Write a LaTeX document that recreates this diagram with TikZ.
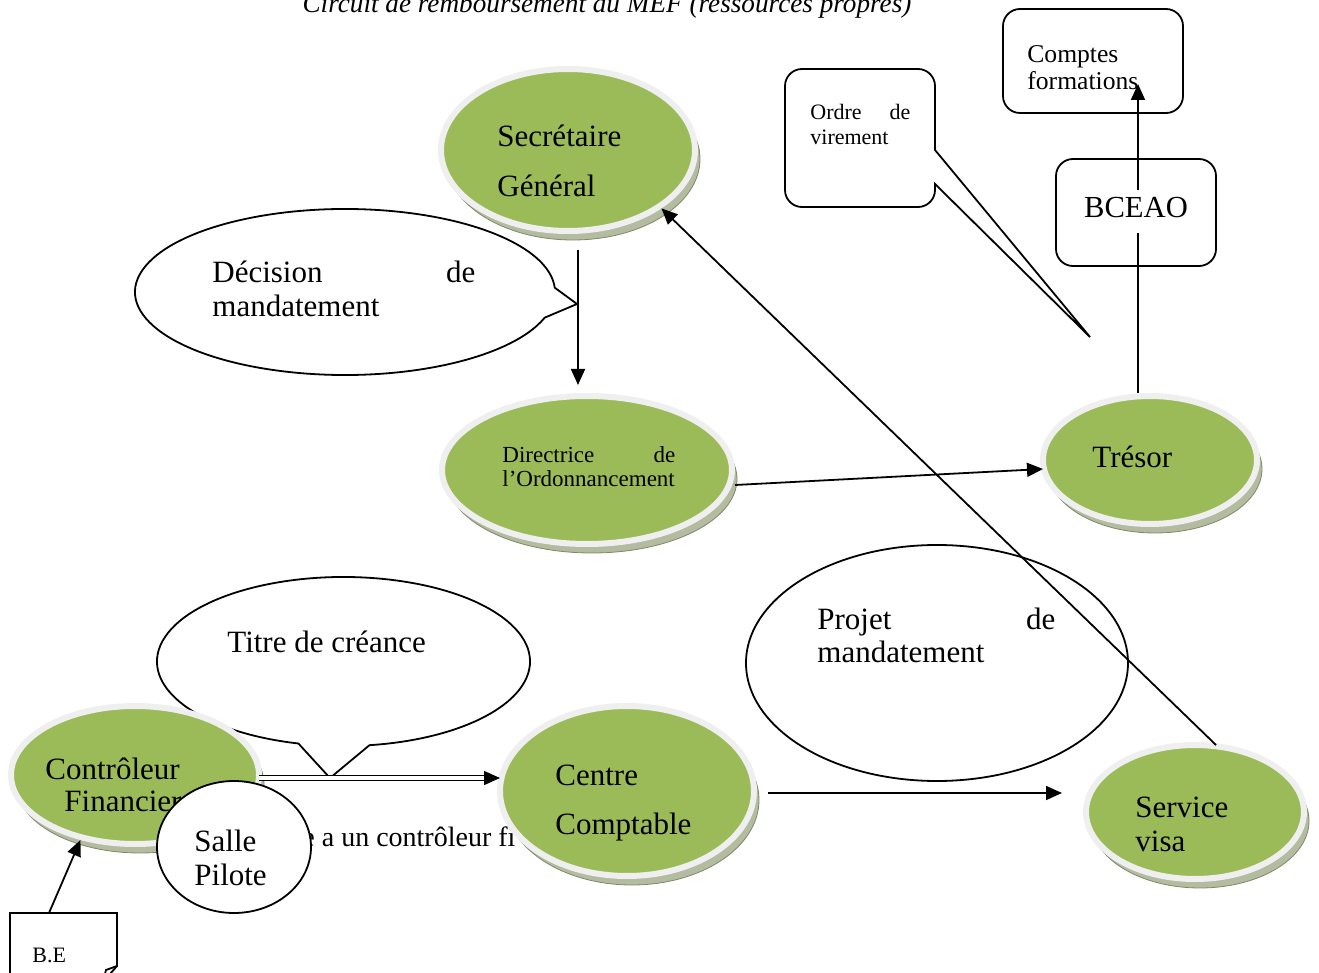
\documentclass[tikz,border=0pt]{standalone}
\usepackage{fontspec}
\setmainfont{Liberation Serif}
\usetikzlibrary{shapes.geometric,shadows,arrows.meta,calc}

\definecolor{vert}{HTML}{9BBB59}
\definecolor{anneau}{HTML}{EFEFEF}
\definecolor{ombre}{HTML}{B3BBA0}
\definecolor{ombrebord}{HTML}{7D8A63}

\tikzset{
  acteur/.style={ellipse, fill=vert, draw=anneau, line width=3pt, inner sep=0pt,
    drop shadow={shadow xshift=2.5pt, shadow yshift=-4.5pt, fill=ombre, draw=ombrebord,
      line width=0.4pt, opacity=1}},
  bulle/.style={draw, fill=white, line width=0.9pt},
  boite/.style={draw, fill=white, line width=0.9pt, rounded corners=8.5pt, inner sep=0pt},
  texte/.style={anchor=base west, inner sep=0pt, align=left},
  trait/.style={line width=0.9pt},
  fleche/.style={-{Triangle[length=8pt,width=7pt]}, line width=0.9pt},
}

\begin{document}
\begin{tikzpicture}[x=0.5pt, y=-0.5pt]
  \useasboundingbox (0,0) rectangle (1319,973);
  \clip (0,0) rectangle (1319,973);

  % Titre
  \node[font=\fontsize{13.6}{16}\selectfont\itshape, anchor=base] (titre) at (607,13)
    {Circuit de remboursement au MEF (ressources propres)};

  % Bulles
  \draw[bulle] (345,292) ++(18:210 and 83)
    arc[start angle=18, end angle=357, x radius=210, y radius=83] -- (577,304) -- cycle;
  \node[texte, text width=131.5pt, font=\fontsize{15.5}{17}\selectfont] (decision) at (212,283)
    {Décision\hfill de\\mandatement};

  \draw[bulle] (343.5,661.5) ++(104:186.5 and 84.5)
    arc[start angle=104, end angle=442, x radius=186.5, y radius=84.5] -- (330,778) -- cycle;
  \node[texte, font=\fontsize{15.5}{17}\selectfont] (titrecreance) at (227,652) {Titre de créance};

  \draw[bulle] (937,663) ellipse [x radius=191, y radius=118];
  \node[texte, text width=119pt, font=\fontsize{15.5}{17}\selectfont] (projet) at (817,629)
    {Projet\hfill de\\mandatement};

  \draw[bulle] (802,69) -- (918,69) arc[start angle=-90, end angle=0, radius=17]
    -- (935,150) -- (1090,337) -- (935,184) -- (935,190)
    arc[start angle=0, end angle=90, radius=17] -- (802,207)
    arc[start angle=90, end angle=180, radius=17] -- (785,86)
    arc[start angle=180, end angle=270, radius=17] -- cycle;
  \node[texte, text width=50pt, font=\fontsize{11}{12.5}\selectfont] (ordre) at (810,120)
    {Ordre\hfill de\\virement};

  % Boites
  \node[boite, minimum width=90pt, minimum height=52pt] (comptes) at (1093,61) {};
  \node[texte, text width=70pt, font=\fontsize{12.8}{13.5}\selectfont] (comptestxt) at (1027,63)
    {Comptes\\formations};
  \node[boite, minimum width=80pt, minimum height=53.5pt, text depth=5.6pt,
    font=\fontsize{15.3}{18}\selectfont] (bceao) at (1136,212.5) {BCEAO};

  % B.E
  \draw[trait] (10,985) -- (10,913) -- (117,913) -- (117,966) -- (103,982);
  \draw[trait] (117,966) -- (106,970) -- (103,982);
  \coordinate (behaut) at (49,913);
  \node[texte, font=\fontsize{11}{13}\selectfont] (betxt) at (32,962) {B.E};

  % texte cache
  \node[texte, font=\fontsize{14}{16}\selectfont] (cache) at (302,846) {e a un contrôleur fi};

  % Acteurs
  \node[acteur, minimum width=127pt, minimum height=81pt] (sg) at (568,150) {};
  \node[texte, text width=80pt, font=\fontsize{15.5}{25}\selectfont] (sgtxt) at (497,147)
    {Secrétaire\\Général};

  \node[acteur, minimum width=145pt, minimum height=74pt] (dir) at (587,470) {};
  \node[texte, text width=86.5pt, font=\fontsize{11.5}{12}\selectfont] (dirtxt) at (502,463)
    {Directrice\hfill de\\l’Ordonnancement};

  \node[acteur, minimum width=107pt, minimum height=64pt] (tr) at (1150,460) {};
  \node[texte, font=\fontsize{15.5}{17}\selectfont] (trtxt) at (1092,468) {Trésor};

  \node[acteur, minimum width=124pt, minimum height=69pt] (cf) at (135,775) {};
  \node[texte, text width=80pt, font=\fontsize{15.5}{16}\selectfont] (cftxt) at (45,779)
    {Contrôleur\\\hspace*{9.5pt}Financier};

  \node[acteur, minimum width=127pt, minimum height=85pt] (cc) at (627,791) {};
  \node[texte, text width=80pt, font=\fontsize{15.5}{24.5}\selectfont] (cctxt) at (555,785)
    {Centre\\Comptable};

  \node[acteur, minimum width=109pt, minimum height=67pt] (sv) at (1195,812) {};
  \node[texte, text width=60pt, font=\fontsize{15.5}{17}\selectfont] (svtxt) at (1135,817)
    {Service\\visa};

  % Salle Pilote
  \node[ellipse, draw, fill=white, line width=0.9pt, inner sep=0pt,
    minimum width=77pt, minimum height=66pt] (salle) at (234,847) {};
  \node[texte, text width=50pt, font=\fontsize{15.5}{17}\selectfont] (salletxt) at (194,851)
    {Salle\\Pilote};

  % Fleches
  \draw[fleche] ($(sg.south)+(10,16)$) -- ($(dir.north)+(-9,-8)$);
  \draw[fleche] ($(dir.east)+(0,15)$) -- ($(tr.west)+(3,9)$);
  \draw[trait] ($(tr.north)+(-12,0)$) -- ($(bceao.center)+(2,20.5)$);
  \draw[fleche] ($(bceao.center)+(2,-22.5)$) -- ($(comptes.center)+(45,23)$);
  \draw[fleche] ($(sv.north)+(21,3)$) -- (sg.-32);
  \draw[fleche] ($(cc.east)+(11,2)$) -- ($(sv.west)+(-21,-19)$);
  \draw[fleche, double, double distance=1.8pt, line width=0.7pt] ($(cf.east)+(-3,3)$) -- ($(cc.west)+(3,-13)$);
  \draw[fleche] (behaut) -- (cf.-130);
\end{tikzpicture}
\end{document}
